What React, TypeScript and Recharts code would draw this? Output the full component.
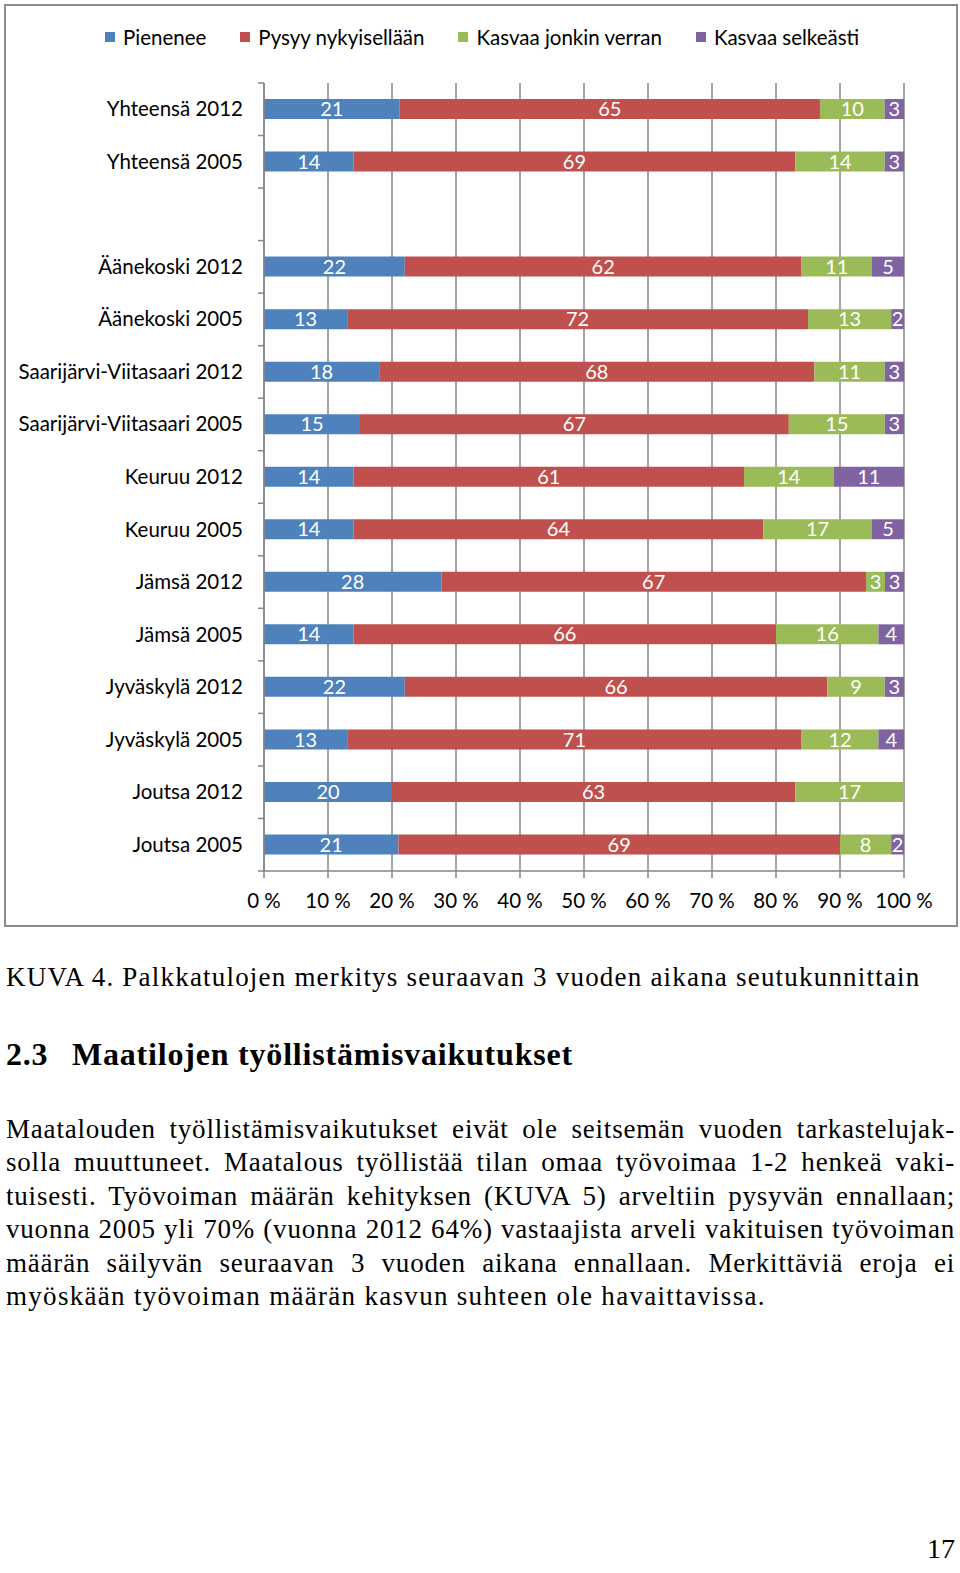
import React from 'react'
import {
   Bar,
   BarChart,
   CartesianGrid,
   LabelList,
   XAxis,
   YAxis,
} from 'recharts'

const categories = [
   'Yhteensä 2012',
   'Yhteensä 2005',
   '',
   'Äänekoski 2012',
   'Äänekoski 2005',
   'Saarijärvi-Viitasaari 2012',
   'Saarijärvi-Viitasaari 2005',
   'Keuruu 2012',
   'Keuruu 2005',
   'Jämsä 2012',
   'Jämsä 2005',
   'Jyväskylä 2012',
   'Jyväskylä 2005',
   'Joutsa 2012',
   'Joutsa 2005',
]
const pienenee = [21, 14, null, 22, 13, 18, 15, 14, 14, 28, 14, 22, 13, 20, 21]
const pysyy = [65, 69, null, 62, 72, 68, 67, 61, 64, 67, 66, 66, 71, 63, 69]
const kasvaaJonkin = [10, 14, null, 11, 13, 11, 15, 14, 17, 3, 16, 9, 12, 17, 8]
const kasvaaSelkeasti = [3, 3, null, 5, 2, 3, 3, 11, 5, 3, 4, 3, 4, 0, 2]
const xTicks = [0, 0.1, 0.2, 0.3, 0.4, 0.5, 0.6, 0.7, 0.8, 0.9, 1]

const series = [
   { key: 'pienenee', name: 'Pienenee', color: '#4F81BD' },
   { key: 'pysyy', name: 'Pysyy nykyisellään', color: '#C0504D' },
   { key: 'jonkin', name: 'Kasvaa jonkin verran', color: '#9BBB59' },
   { key: 'selkeasti', name: 'Kasvaa selkeästi', color: '#8064A2' },
]

const data = categories.map((name, i) => ({
   name,
   pienenee: pienenee[i],
   pysyy: pysyy[i],
   jonkin: kasvaaJonkin[i],
   selkeasti: kasvaaSelkeasti[i],
}))

const font = 'Lato, "Open Sans", sans-serif'
const serif = '"Liberation Serif", serif'
const chartW = 954
const chartH = 923
const xAxisH = 30
const margin = { top: 79, right: 54, bottom: 56 - xAxisH, left: 0 }
const yAxisW = 260
const band = (chartH - 79 - 56) / categories.length

// category tick: label plus Excel-style tick marks between categories
function CategoryTick(props: any) {
   const { x, y, payload, index } = props
   const axisX = x + 21
   return (
      <g>
         <text
            x={x}
            y={y}
            dy={7}
            textAnchor="end"
            fontSize={20.5}
            fontFamily={font}
            fill="#000"
         >
            {payload.value}
         </text>
         <line x1={axisX - 6} x2={axisX} y1={y - band / 2} y2={y - band / 2} stroke="#868686" strokeWidth={1.5} />
         {index === categories.length - 1 && (
            <line x1={axisX - 6} x2={axisX} y1={y + band / 2} y2={y + band / 2} stroke="#868686" strokeWidth={1.5} />
         )}
      </g>
   )
}

const paragraph = [
   'Maatalouden työllistämisvaikutukset eivät ole seitsemän vuoden tarkastelujak-',
   'solla muuttuneet. Maatalous työllistää tilan omaa työvoimaa 1-2 henkeä vaki-',
   'tuisesti. Työvoiman määrän kehityksen (KUVA 5) arveltiin pysyvän ennallaan;',
   'vuonna 2005 yli 70% (vuonna 2012 64%) vastaajista arveli vakituisen työvoiman',
   'määrän säilyvän seuraavan 3 vuoden aikana ennallaan. Merkittäviä eroja ei',
   'myöskään työvoiman määrän kasvun suhteen ole havaittavissa.',
]

export default function App() {
   return (
      <div style={{ position: 'absolute', left: 0, top: 0, width: 960, height: 1573, background: '#fff', overflow: 'hidden' }}>
         <div
            style={{
               position: 'absolute',
               left: 4,
               top: 4,
               width: chartW,
               height: chartH,
               border: '2px solid #8c8c8c',
               boxSizing: 'border-box',
            }}
         >
            <div
               style={{
                  position: 'absolute',
                  left: 99,
                  top: 19,
                  display: 'flex',
                  fontFamily: font,
                  fontSize: 20.5,
                  color: '#000',
               }}
            >
               {series.map((s) => (
                  <div key={s.key} style={{ display: 'flex', alignItems: 'center', marginRight: 34 }}>
                     <span style={{ width: 10, height: 10, background: s.color, marginRight: 8 }} />
                     <span>{s.name}</span>
                  </div>
               ))}
            </div>
            <div style={{ position: 'absolute', left: -2, top: -2 }}>
               <BarChart
                  width={chartW}
                  height={chartH}
                  data={data}
                  layout="vertical"
                  stackOffset="expand"
                  margin={margin}
                  barSize={20}
               >
                  <CartesianGrid horizontal={false} vertical stroke="#868686" strokeWidth={1.5} verticalValues={xTicks} />
                  <XAxis
                     type="number"
                     domain={[0, 1]}
                     ticks={xTicks}
                     height={xAxisH}
                     tickFormatter={(v: number) => `${Math.round(v * 100)} %`}
                     axisLine={{ stroke: '#868686', strokeWidth: 1.5 }}
                     tickLine={{ stroke: '#868686', strokeWidth: 1.5 }}
                     tickSize={7}
                     tickMargin={15}
                     tick={{ fontSize: 20.5, fontFamily: font, fill: '#000' }}
                     interval={0}
                  />
                  <YAxis
                     type="category"
                     dataKey="name"
                     width={yAxisW}
                     interval={0}
                     tickLine={false}
                     tickSize={6}
                     tickMargin={15}
                     axisLine={{ stroke: '#868686', strokeWidth: 1.5 }}
                     tick={<CategoryTick />}
                  />
                  {series.map((s) => (
                     <Bar key={s.key} dataKey={s.key} name={s.name} stackId="a" fill={s.color} isAnimationActive={false}>
                        <LabelList
                           dataKey={s.key}
                           position="center"
                           fill="#fff"
                           fontSize={20}
                           fontFamily={font}
                        />
                     </Bar>
                  ))}
               </BarChart>
            </div>
         </div>

         <div style={{ position: 'absolute', left: 6, top: 962, fontFamily: serif, fontSize: 27, letterSpacing: 1.2, color: '#000', whiteSpace: 'nowrap' }}>
            KUVA 4. Palkkatulojen merkitys seuraavan 3 vuoden aikana seutukunnittain
         </div>
         <div style={{ position: 'absolute', left: 6, top: 1036, fontFamily: serif, fontSize: 32, letterSpacing: 0.8, fontWeight: 'bold', color: '#000', whiteSpace: 'nowrap' }}>
            <span style={{ display: 'inline-block', width: 66 }}>2.3</span>
            Maatilojen työllistämisvaikutukset
         </div>
         <div style={{ position: 'absolute', left: 6, top: 1113, width: 949, fontFamily: serif, fontSize: 27, letterSpacing: 0.8, lineHeight: '33.4px', color: '#000' }}>
            {paragraph.map((line, i) => {
               const last = i === paragraph.length - 1
               return (
                  <div
                     key={i}
                     style={{
                        textAlign: 'justify',
                        textAlignLast: last ? 'left' : 'justify',
                        letterSpacing: last ? 1.3 : 0.8,
                        whiteSpace: 'nowrap',
                     }}
                  >
                     {line}
                  </div>
               )
            })}
         </div>
         <div style={{ position: 'absolute', right: 5, top: 1533, fontFamily: serif, fontSize: 28, color: '#000' }}>17</div>
      </div>
   )
}
